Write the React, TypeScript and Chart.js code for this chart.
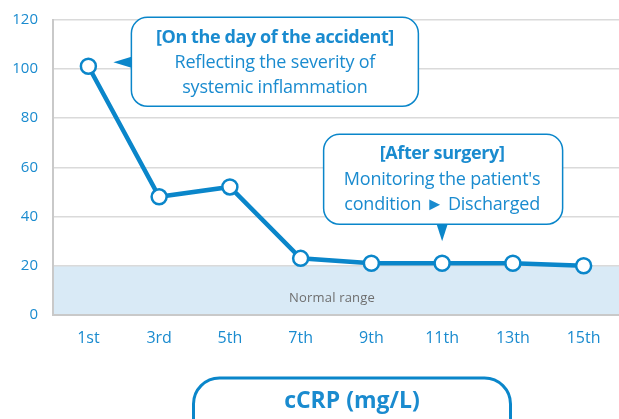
import React, { useEffect, useRef } from "react";
import { Chart, registerables } from "chart.js";
Chart.register(...registerables);

const categories = ["1st", "3rd", "5th", "7th", "9th", "11th", "13th", "15th"];
const crpValues = [101, 48, 52, 23, 21, 21, 21, 20];
const yTickValues = [0, 20, 40, 60, 80, 100, 120];
const normalRange = [0, 20];
const bandLabel = "Normal range";
const accidentLines = ["[On the day of the accident]", "Reflecting the severity of", "systemic inflammation"];
const accidentIndex = 0;
const surgeryLines = ["[After surgery]", "Monitoring the patient's", "condition \u25BA Discharged"];
const surgeryIndex = 5;
const titleText = "cCRP (mg/L)";

const BLUE = "#0a86ca";
const TEXT_BLUE = "#1a8bcf";
const FAMILY = "'Open Sans', sans-serif";

function font(weight: string, size: number) {
  return `${weight} ${size}px ${FAMILY}`;
}

const overlayPlugin = {
  id: "overlay",
  beforeDraw(chart: any) {
    const { ctx, chartArea, scales } = chart;
    const y = scales.y;
    const top = y.getPixelForValue(normalRange[1]);
    const bot = y.getPixelForValue(normalRange[0]);
    ctx.save();
    ctx.fillStyle = "#d9eaf6";
    ctx.fillRect(chartArea.left, top, chartArea.right - chartArea.left, bot - top);
    ctx.restore();
  },
  afterDraw(chart: any) {
    const { ctx, chartArea, scales } = chart;
    const x = scales.x;
    const y = scales.y;
    ctx.save();
    ctx.fillStyle = "#6e6e6e";
    ctx.font = font("400", 13);
    (ctx as any).letterSpacing = "0.2px";
    ctx.textAlign = "center";
    ctx.textBaseline = "middle";
    const bandMid = (y.getPixelForValue(normalRange[0]) + y.getPixelForValue(normalRange[1])) / 2;
    ctx.fillText(bandLabel, (chartArea.left + chartArea.right) / 2 - 4, bandMid + 7.5);

    const drawLines = (lines: string[], cx: number, firstY: number) => {
      ctx.fillStyle = TEXT_BLUE;
      ctx.textAlign = "center";
      ctx.textBaseline = "middle";
      lines.forEach((t, i) => {
        ctx.font = font(i === 0 ? "700" : "400", 18);
        (ctx as any).letterSpacing = i === 0 ? "-0.4px" : "-0.2px";
        ctx.fillText(t, cx, firstY + i * 25.2);
      });
      (ctx as any).letterSpacing = "0px";
    };

    {
      const px = x.getPixelForValue(accidentIndex);
      const py = y.getPixelForValue(crpValues[accidentIndex]);
      const tipX = px + 25;
      const tipY = py - 4;
      const bx = tipX + 18;
      const bw = 287;
      const bh = 89;
      const by = tipY - 45;
      ctx.fillStyle = "#fff";
      ctx.strokeStyle = BLUE;
      ctx.lineWidth = 1.5;
      ctx.beginPath();
      ctx.roundRect(bx, by, bw, bh, 16);
      ctx.fill();
      ctx.stroke();
      ctx.fillStyle = BLUE;
      ctx.beginPath();
      ctx.moveTo(tipX, tipY);
      ctx.lineTo(bx, tipY - 5.5);
      ctx.lineTo(bx, tipY + 5.5);
      ctx.closePath();
      ctx.fill();
      drawLines(accidentLines, bx + bw / 2, by + 20.5);
    }
    {
      const px = x.getPixelForValue(surgeryIndex);
      const py = y.getPixelForValue(crpValues[surgeryIndex]);
      const tipX = px;
      const tipY = py - 22;
      const by2 = tipY - 17;
      const bw = 239;
      const bh = 90;
      const bx = tipX - bw / 2 + 1;
      const by = by2 - bh;
      ctx.fillStyle = "#fff";
      ctx.strokeStyle = BLUE;
      ctx.lineWidth = 1.5;
      ctx.beginPath();
      ctx.roundRect(bx, by, bw, bh, 16);
      ctx.fill();
      ctx.stroke();
      ctx.fillStyle = BLUE;
      ctx.beginPath();
      ctx.moveTo(tipX, tipY);
      ctx.lineTo(tipX - 5.5, by2);
      ctx.lineTo(tipX + 5.5, by2);
      ctx.closePath();
      ctx.fill();
      drawLines(surgeryLines, tipX, by + 20);
    }
    {
      const cx = 352;
      const w = 317;
      const top = 378;
      ctx.strokeStyle = BLUE;
      ctx.lineWidth = 3;
      ctx.beginPath();
      ctx.roundRect(cx - w / 2, top, w, 70, 26);
      ctx.stroke();
      ctx.fillStyle = TEXT_BLUE;
      ctx.font = font("700", 23);
      ctx.textAlign = "center";
      ctx.textBaseline = "middle";
      ctx.fillText(titleText, cx, 401.5);
    }
    ctx.restore();
  },
};

export default function App() {
  const ref = useRef<HTMLCanvasElement | null>(null);
  useEffect(() => {
    if (!ref.current) return;
    const chart = new Chart(ref.current, {
      type: "line",
      data: {
        labels: categories,
        datasets: [
          {
            data: crpValues,
            borderColor: BLUE,
            borderWidth: 4.5,
            pointRadius: 7.5,
            pointBorderWidth: 2.5,
            pointBackgroundColor: "#fff",
            pointBorderColor: BLUE,
            tension: 0,
            clip: false as any,
          },
        ],
      },
      options: {
        responsive: false,
        animation: false,
        devicePixelRatio: 1,
        layout: { autoPadding: false, padding: { top: 19.5, right: 0, left: 0, bottom: 0 } },
        plugins: { legend: { display: false }, tooltip: { enabled: false }, title: { display: false } },
        scales: {
          x: {
            type: "category",
            offset: true,
            grid: { display: false, drawTicks: false },
            border: { color: "#c9c9c9", width: 2 },
            ticks: { color: TEXT_BLUE, font: { family: FAMILY, size: 16 }, padding: 13.5, maxRotation: 0 },
            afterFit: (s: any) => { s.height = 104; s.paddingLeft = 0; s.paddingRight = 0; },
          },
          y: {
            min: 0,
            max: 120,
            afterBuildTicks: (s: any) => { s.ticks = yTickValues.map((v) => ({ value: v })); },
            grid: { color: "#dadada", lineWidth: 1.5, drawTicks: false },
            border: { color: "#c9c9c9", width: 2 },
            ticks: { color: TEXT_BLUE, font: { family: FAMILY, size: 15 }, padding: 15 },
            afterFit: (s: any) => { s.width = 53; s.paddingTop = 0; s.paddingBottom = 0; },
          },
        },
      },
      plugins: [overlayPlugin],
    });
    return () => chart.destroy();
  }, []);
  return (
    <div style={{ position: "fixed", left: 0, top: 0, width: 619, height: 419, background: "#fff" }}>
      <canvas ref={ref} width={619} height={419} style={{ display: "block" }} />
    </div>
  );
}
